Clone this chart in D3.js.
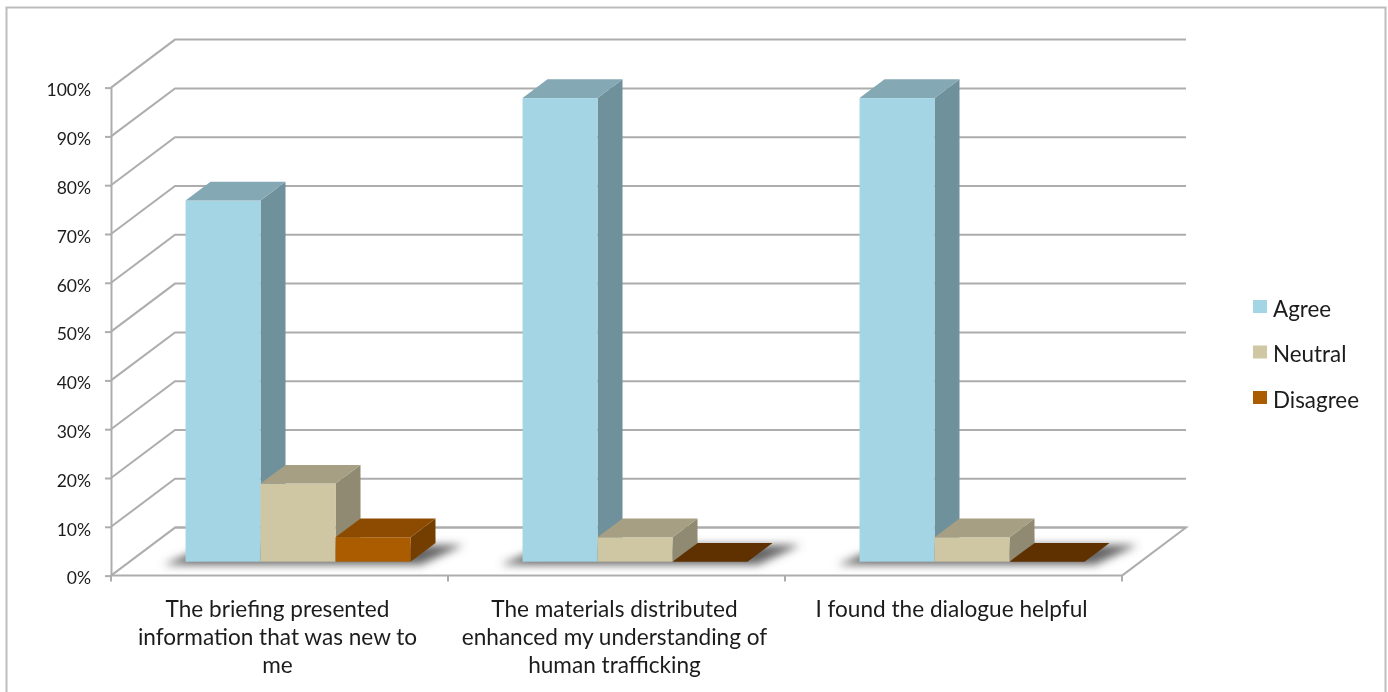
<!DOCTYPE html>
<html>
<head>
<meta charset="utf-8">
<script src="https://cdn.jsdelivr.net/npm/d3@7/dist/d3.min.js"></script>
<style>
html,body{margin:0;padding:0;background:#fff;overflow:hidden}
svg{display:block;filter:blur(0.6px)}
text{font-family:Lato,"Open Sans",sans-serif;fill:#1c1c1c}
</style>
</head>
<body>
<svg id="c" width="1388" height="692"></svg>
<script>
const categories = ["briefing", "materials", "dialogue"];
const categoryLines = [
  ["The briefing presented", "information that was new to", "me"],
  ["The materials distributed", "enhanced my understanding of", "human trafficking"],
  ["I found the dialogue helpful"]
];
const seriesNames = ["Agree", "Neutral", "Disagree"];
const agree = [74, 95, 95];
const neutral = [16, 5, 5];
const disagree = [5, 0, 0];
const seriesValues = [agree, neutral, disagree];
const yTicks = [0,10,20,30,40,50,60,70,80,90,100];
const frontColors = ["#a3d5e5", "#cfc6a4", "#ab5c00"];
const topColors = ["#84a8b4", "#a69f84", "#8c4b00"];
const sideColors = ["#6f919c", "#8f8a71", "#743e00"];
const flatColors = ["#84a8b4", "#a69f84", "#5f3000"];

const svg = d3.select("#c");
const defs = svg.append("defs");
defs.append("filter").attr("id","sh").attr("x","-20%").attr("y","-100%").attr("width","140%").attr("height","300%")
  .append("feGaussianBlur").attr("stdDeviation",4);
const GRID = "#adadad";

// frame
svg.append("path").attr("d","M6.5,692V7.5H1385.5V692").attr("fill","none").attr("stroke","#bdbdbd").attr("stroke-width",2);

const x0 = 111, x1 = 1122, dx = 64, dy = -48;
const y = d3.scaleLinear().domain([0,100]).range([575.6,87.6]);
const x = d3.scaleBand().domain(categories).range([x0,x1]);

// wall and floor gridlines
const grid = svg.append("g").attr("fill","none").attr("stroke",GRID).attr("stroke-width",2);
grid.selectAll("path.g").data(yTicks).join("path").attr("class","g")
  .attr("d", t => d3.line()([[x0,y(t)],[x0+dx,y(t)+dy],[x1+dx,y(t)+dy]]));
grid.append("path").attr("d", d3.line()([[x0+dx,y(0)+dy],[x1+dx,y(0)+dy],[x1,y(0)]]));

// axes
const yAxis = svg.append("g").attr("transform",`translate(${x0},0)`)
  .call(d3.axisLeft(y).tickValues(yTicks).tickFormat(d => d + "%").tickSize(6).tickSizeOuter(0).tickPadding(14));
yAxis.selectAll("path,line").attr("stroke",GRID).attr("stroke-width",2);
yAxis.selectAll("text").attr("font-size",17.5).attr("dy","0.47em").style("font-family","Lato,sans-serif");

const xAxis = svg.append("g").attr("transform",`translate(0,${y(0)})`);
xAxis.append("path").attr("d",`M${x0},0H${x1}`).attr("stroke",GRID).attr("stroke-width",2);
xAxis.selectAll("line").data(categories.concat(["end"])).join("line")
  .attr("x1",(d,i)=>x0+i*x.step()).attr("x2",(d,i)=>x0+i*x.step())
  .attr("y1",0).attr("y2",6).attr("stroke",GRID).attr("stroke-width",2);

// bars
const frac = 0.29;                 // gap in front of the bars, as part of the chart depth
const bdx = dx*frac, bdy = dy*frac;
const barDepth = 0.39;
const ddx = dx*barDepth, ddy = dy*barDepth;
const barW = x.step()/4.493;
const baseY = y(0)+bdy;
const h = v => y(0)-y(v);
const pts = a => a.map(p=>p.join(",")).join(" ");

const shadows = svg.append("g").attr("filter","url(#sh)");
categories.forEach((c,ci)=>{
  const left = x(c)+bdx+(x.step()-3*barW)/2;
  const right = left+3*barW;
  shadows.append("polygon").attr("fill","#555").attr("fill-opacity",0.9)
    .attr("points",pts([[left-22,baseY+3],[right+10,baseY+3],[right+ddx+28,baseY+ddy+2],[left+ddx,baseY+ddy+2]]));
});

const bars = svg.append("g");
categories.forEach((c,ci)=>{
  const left = x(c)+bdx+(x.step()-3*barW)/2;
  seriesValues.forEach((vals,si)=>{
    const v = vals[ci];
    const xa = left+si*barW, xb = xa+barW;
    const top = baseY-h(v);
    if(v>0){
      bars.append("polygon").attr("fill",sideColors[si])
        .attr("points",pts([[xb,top],[xb+ddx,top+ddy],[xb+ddx,baseY+ddy],[xb,baseY]]));
      bars.append("rect").attr("x",xa).attr("y",top).attr("width",barW).attr("height",h(v)).attr("fill",frontColors[si]);
    }
    bars.append("polygon").attr("fill",v>0?topColors[si]:flatColors[si])
      .attr("points",pts([[xa,top],[xb,top],[xb+ddx,top+ddy],[xa+ddx,top+ddy]]));
  });
});

// category labels
const labels = svg.append("g").attr("text-anchor","middle").attr("font-size",22.6);
categories.forEach((c,ci)=>{
  const cx = x(c)+x.bandwidth()/2-2;
  categoryLines[ci].forEach((line,li)=>{
    labels.append("text").attr("x",cx).attr("y",616.5+li*28).text(line);
  });
});

// legend
const legend = svg.append("g");
const legendY = d3.scalePoint().domain(seriesNames).range([306.5,397.5]);
seriesNames.forEach((n,i)=>{
  legend.append("rect").attr("x",1253).attr("y",legendY(n)-6.5).attr("width",14).attr("height",13).attr("fill",frontColors[i]);
  legend.append("text").attr("x",1273).attr("y",legendY(n)+10).attr("font-size",22.4).text(n);
});
</script>
</body>
</html>
